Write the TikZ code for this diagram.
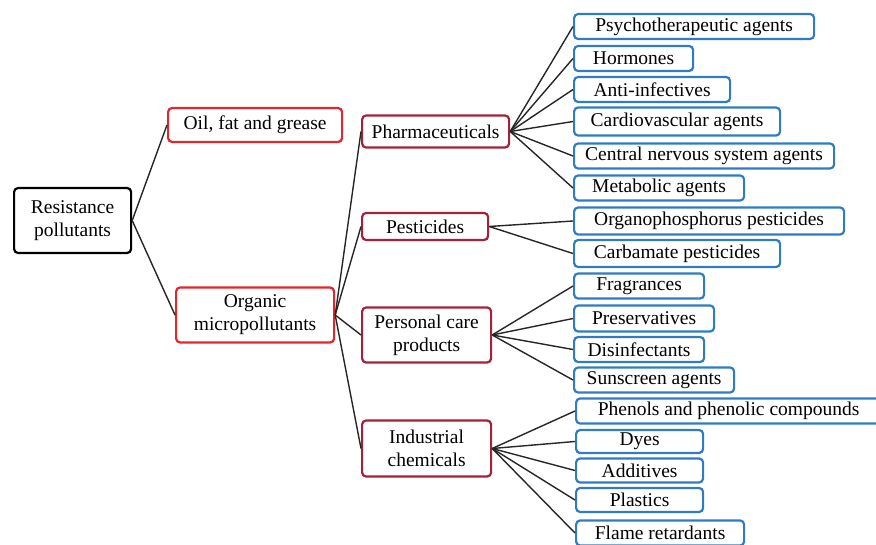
\documentclass[tikz,border=0pt]{standalone}
\usepackage{fontspec}
\setmainfont{Liberation Serif}
\usetikzlibrary{positioning}
\definecolor{toprd}{HTML}{E3262C}
\definecolor{midrd}{HTML}{A52039}
\definecolor{leafbl}{HTML}{2F7CC4}
\tikzset{
  box/.style={draw, rounded corners=4, line width=2.2, inner sep=1, align=center,
    anchor=west, font=\fontsize{19.5}{23}\selectfont},
  rootbox/.style={box, draw=black},
  topbox/.style={box, draw=toprd},
  midbox/.style={box, draw=midrd},
  leafbox/.style={box, draw=leafbl, minimum height=25},
  link/.style={line width=1.4, draw=black!85}
}
\begin{document}
\begin{tikzpicture}[x=1pt, y=-1pt]
      \useasboundingbox (0,0) rectangle (876,545);
      \clip (0,0) rectangle (876,545);

      % levels 0 and 1
      \node[rootbox, minimum width=117, minimum height=65] (root) at (13, 220.5) {Resistance\\pollutants};
      \node[topbox, minimum width=174, minimum height=34] (oil) at (167, 125) {Oil, fat and grease};
      \node[topbox, minimum width=158, minimum height=55] (organic) at (175, 315) {Organic\\micropollutants};

      % level 2
      \node[midbox, minimum width=147, minimum height=32] (pharma) at (361, 131.5) {Pharmaceuticals};
      \node[midbox, minimum width=126, minimum height=27] (pest) at (361, 226.5) {Pesticides};
      \node[midbox, minimum width=129, minimum height=55] (pcare) at (361, 335) {Personal care\\products};
      \node[midbox, minimum width=129, minimum height=56] (indus) at (361, 448.5) {Industrial\\chemicals};

      % leaves
      \node[leafbox, minimum width=240] (psycho) at (573, 26.5) {Psychotherapeutic agents};
      \node[leafbox, minimum width=119] (hormon) at (573, 58.5) {Hormones};
      \node[leafbox, minimum width=156] (antiinf) at (573, 89.5) {Anti-infectives};
      \node[leafbox, minimum width=206, minimum height=28] (cardio) at (573, 121.5) {Cardiovascular agents};
      \node[leafbox, minimum width=260] (cns) at (573, 156) {Central nervous system agents};
      \node[leafbox, minimum width=170] (metab) at (573, 188) {Metabolic agents};
      \node[leafbox, minimum width=270, minimum height=27] (organo) at (573, 221) {Organophosphorus pesticides};
      \node[leafbox, minimum width=206, minimum height=27] (carba) at (573, 253.5) {Carbamate pesticides};
      \node[leafbox, minimum width=130] (fragr) at (573, 286) {Fragrances};
      \node[leafbox, minimum width=140, minimum height=26] (preserv) at (573, 318.5) {Preservatives};
      \node[leafbox, minimum width=130] (disinf) at (573, 349.5) {Disinfectants};
      \node[leafbox, minimum width=160] (sunscr) at (573, 380) {Sunscreen agents};
      \node[leafbox, minimum width=305] (phenol) at (575, 411) {Phenols and phenolic compounds};
      \node[leafbox, minimum width=127, minimum height=23] (dyes) at (575, 441.5) {Dyes};
      \node[leafbox, minimum width=127, minimum height=24] (addit) at (575, 470.5) {Additives};
      \node[leafbox, minimum width=127, minimum height=24] (plast) at (575, 500) {Plastics};
      \node[leafbox, minimum width=168] (flame) at (575, 533) {Flame retardants};

      % connectors
      \draw[link] (root.east) -- (oil.west);
      \draw[link] (root.east) -- (organic.west);
      \draw[link] (organic.east) -- (pharma.west);
      \draw[link] (organic.east) -- (pest.west);
      \draw[link] (organic.east) -- (pcare.west);
      \draw[link] (organic.east) -- (indus.west);

      \draw[link] (pharma.east) -- (psycho.west);
      \draw[link] (pharma.east) -- (hormon.west);
      \draw[link] (pharma.east) -- (antiinf.west);
      \draw[link] (pharma.east) -- (cardio.west);
      \draw[link] (pharma.east) -- (cns.west);
      \draw[link] (pharma.east) -- (metab.west);

      \draw[link] (pest.east) -- (organo.west);
      \draw[link] (pest.east) -- (carba.west);

      \draw[link] (pcare.east) -- (fragr.west);
      \draw[link] (pcare.east) -- (preserv.west);
      \draw[link] (pcare.east) -- (disinf.west);
      \draw[link] (pcare.east) -- (sunscr.west);

      \draw[link] (indus.east) -- (phenol.west);
      \draw[link] (indus.east) -- (dyes.west);
      \draw[link] (indus.east) -- (addit.west);
      \draw[link] (indus.east) -- (plast.west);
      \draw[link] (indus.east) -- (flame.west);

    \end{tikzpicture}
\end{document}
